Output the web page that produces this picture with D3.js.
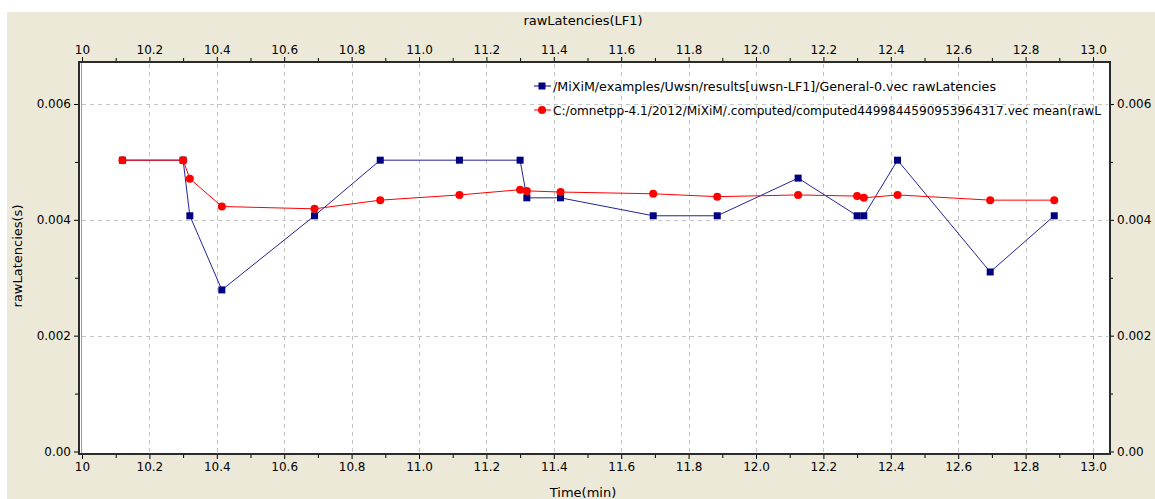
<!DOCTYPE html>
<html>
<head>
<meta charset="utf-8">
<script src="https://cdn.jsdelivr.net/npm/d3@7"></script>
<style>
  body { margin: 0; background: #fff; }
  #chart-area text { font-family: "DejaVu Sans", sans-serif; fill: #000; }
  .axis path.domain { display: none; }
  .axis line { stroke: #000; }
  .grid line { stroke: #c4c4c4; stroke-dasharray: 4,4; }
</style>
</head>
<body>
<div id="chart-area"></div>
<script>

// Time (min) of each sample
var sampleTimes = [10.12, 10.30, 10.32, 10.415, 10.69, 10.885, 11.12, 11.30, 11.32, 11.42,
                   11.695, 11.885, 12.125, 12.30, 12.32, 12.42, 12.695, 12.885];

// rawLatencies (s), blue series
var rawLatencies = [0.00503, 0.00503, 0.00407, 0.00279, 0.00407, 0.00503, 0.00503, 0.00503, 0.00438, 0.00438,
                    0.00407, 0.00407, 0.00472, 0.00407, 0.00407, 0.00503, 0.00310, 0.00407];

// mean(rawLatencies) (s), red series
var meanLatencies = [0.00503, 0.00503, 0.00471, 0.00423, 0.00419, 0.00434, 0.00443, 0.00452, 0.00450, 0.00448,
                     0.00445, 0.00440, 0.00443, 0.00441, 0.00438, 0.00443, 0.00434, 0.00434];

// legend labels as they show in the picture (second one is cut by the plot edge)
var seriesNames = [
  "/MiXiM/examples/Uwsn/results[uwsn-LF1]/General-0.vec rawLatencies",
  "C:/omnetpp-4.1/2012/MiXiM/.computed/computed4499844590953964317.vec mean(rawL"
];

var xTickValues = [10, 10.2, 10.4, 10.6, 10.8, 11.0, 11.2, 11.4, 11.6, 11.8, 12.0, 12.2, 12.4, 12.6, 12.8, 13.0];
var xTickLabels = ["10", "10.2", "10.4", "10.6", "10.8", "11.0", "11.2", "11.4", "11.6", "11.8", "12.0", "12.2", "12.4", "12.6", "12.8", "13.0"];
var xMinorTicks = [10.1, 10.3, 10.5, 10.7, 10.9, 11.1, 11.3, 11.5, 11.7, 11.9, 12.1, 12.3, 12.5, 12.7, 12.9];

var yTickValues = [0, 0.002, 0.004, 0.006];
var yTickLabels = ["0.00", "0.002", "0.004", "0.006"];
var yMinorTicks = [0.001, 0.003, 0.005];


LineChartVis = function(_parentElement){
  this.parentElement = _parentElement;
  this.initVis();
}

LineChartVis.prototype.initVis = function(){
  var vis = this;

  vis.W = 1155;
  vis.H = 499;

  // plot box edges
  vis.box = {left: 80, right: 1109, top: 63, bottom: 453};

  vis.svg = d3.select("#" + vis.parentElement).append("svg")
    .attr("width", vis.W)
    .attr("height", vis.H);

  // beige panel, white strip top and left
  vis.svg.append("rect")
    .attr("x", 7).attr("y", 12)
    .attr("width", vis.W - 7).attr("height", vis.H - 12)
    .attr("fill", "#ece9d8");

  vis.svg.append("rect")
    .attr("x", vis.box.left).attr("y", vis.box.top)
    .attr("width", vis.box.right - vis.box.left)
    .attr("height", vis.box.bottom - vis.box.top)
    .attr("fill", "#fff");

  // Scales
  vis.x = d3.scaleLinear().domain([10, 13]).range([82, 1093]);
  vis.y = d3.scaleLinear().domain([0, 0.006]).range([451.5, 104]);

  var fmtX = function(d){ return xTickLabels[xTickValues.indexOf(d)]; };
  var fmtY = function(d){ return yTickLabels[yTickValues.indexOf(d)]; };

  // Grid
  vis.svg.append("g").attr("class", "grid")
    .selectAll("line").data(xTickValues.slice(1))
    .enter().append("line")
    .attr("x1", function(d){ return Math.round(vis.x(d)) + 0.5; })
    .attr("x2", function(d){ return Math.round(vis.x(d)) + 0.5; })
    .attr("y1", vis.box.top + 1).attr("y2", vis.box.bottom - 1);

  vis.svg.append("g").attr("class", "grid")
    .selectAll("line").data(yTickValues.slice(1))
    .enter().append("line")
    .attr("x1", vis.box.left + 2).attr("x2", vis.box.right - 1)
    .attr("y1", function(d){ return Math.round(vis.y(d)) + 0.5; })
    .attr("y2", function(d){ return Math.round(vis.y(d)) + 0.5; });

  // Axes (major + minor)
  var axes = [
    {gen: d3.axisTop, sc: vis.x, vals: xTickValues, minor: xMinorTicks, fmt: fmtX, tr: "translate(0," + (vis.box.top - 2) + ")"},
    {gen: d3.axisBottom, sc: vis.x, vals: xTickValues, minor: xMinorTicks, fmt: fmtX, tr: "translate(0," + (vis.box.bottom + 2) + ")"},
    {gen: d3.axisLeft, sc: vis.y, vals: yTickValues, minor: yMinorTicks, fmt: fmtY, tr: "translate(" + (vis.box.left - 2) + ",0)"},
    {gen: d3.axisRight, sc: vis.y, vals: yTickValues, minor: yMinorTicks, fmt: fmtY, tr: "translate(" + (vis.box.right + 1) + ",0)"}
  ];

  axes.forEach(function(a){
    vis.svg.append("g")
      .attr("class", "axis")
      .attr("transform", a.tr)
      .style("font-size", "12px")
      .call(a.gen(a.sc).tickValues(a.vals).tickFormat(a.fmt).tickSize(4).tickPadding(3));

    vis.svg.append("g")
      .attr("class", "axis")
      .attr("transform", a.tr)
      .call(a.gen(a.sc).tickValues(a.minor).tickFormat("").tickSize(3));
  });

  vis.svg.selectAll(".axis text")
    .style("font-family", "'DejaVu Sans', sans-serif");

  // Plot frame (double line look)
  vis.svg.append("rect")
    .attr("x", vis.box.left - 1).attr("y", vis.box.top - 1)
    .attr("width", vis.box.right - vis.box.left + 2)
    .attr("height", vis.box.bottom - vis.box.top + 2)
    .attr("fill", "none").attr("stroke", "#2b2b2b").attr("stroke-width", 2);

  vis.svg.append("line")
    .attr("x1", vis.box.left + 1.5).attr("x2", vis.box.left + 1.5)
    .attr("y1", vis.box.top).attr("y2", vis.box.bottom)
    .attr("stroke", "#9a9a9a");

  // Titles
  vis.svg.append("text")
    .attr("x", 583).attr("y", 25)
    .attr("text-anchor", "middle")
    .style("font-size", "13px")
    .text("rawLatencies(LF1)");

  vis.svg.append("text")
    .attr("text-anchor", "middle")
    .attr("transform", "translate(22,256)rotate(-90)")
    .style("font-size", "13px")
    .text("rawLatencies(s)");

  vis.svg.append("text")
    .attr("x", 583).attr("y", 497)
    .attr("text-anchor", "middle")
    .style("font-size", "13px")
    .text("Time(min)");

  vis.clip = vis.svg.append("clipPath").attr("id", "plot-clip")
    .append("rect")
    .attr("x", vis.box.left + 2).attr("y", vis.box.top)
    .attr("width", vis.box.right - vis.box.left - 6)
    .attr("height", vis.box.bottom - vis.box.top);

  vis.wrangleData();
}

LineChartVis.prototype.wrangleData = function(){
  var vis = this;

  vis.rawData = sampleTimes.map(function(t, i){ return {t: t, v: rawLatencies[i]}; });
  vis.meanData = sampleTimes.map(function(t, i){ return {t: t, v: meanLatencies[i]}; });

  vis.updateVis();
}

LineChartVis.prototype.updateVis = function(){
  var vis = this;

  var line = d3.line()
    .x(function(d){ return vis.x(d.t); })
    .y(function(d){ return vis.y(d.v); });

  var g = vis.svg.append("g").attr("clip-path", "url(#plot-clip)");

  // blue series
  g.append("path")
    .datum(vis.rawData)
    .attr("fill", "none")
    .attr("stroke", "#23239a")
    .attr("stroke-width", 1)
    .attr("d", line);

  g.selectAll("rect.raw")
    .data(vis.rawData)
    .enter().append("rect")
    .attr("class", "raw")
    .attr("x", function(d){ return vis.x(d.t) - 3.5; })
    .attr("y", function(d){ return vis.y(d.v) - 3.5; })
    .attr("width", 7).attr("height", 7)
    .attr("fill", "#000080");

  // red series on top
  g.append("path")
    .datum(vis.meanData)
    .attr("fill", "none")
    .attr("stroke", "#ff0000")
    .attr("stroke-width", 1)
    .attr("d", line);

  g.selectAll("circle.mean")
    .data(vis.meanData)
    .enter().append("circle")
    .attr("class", "mean")
    .attr("cx", function(d){ return vis.x(d.t); })
    .attr("cy", function(d){ return vis.y(d.v); })
    .attr("r", 4)
    .attr("fill", "#ff0000");

  // Legend
  var legendColors = ["#000080", "#ff0000"];
  var legendWidths = [443, 548];
  var leg = g.selectAll("g.legend")
    .data(seriesNames)
    .enter().append("g")
    .attr("class", "legend")
    .attr("transform", function(d, i){ return "translate(534," + (86 + i * 24) + ")"; });

  leg.append("line")
    .attr("x1", 0).attr("x2", 17)
    .attr("stroke", function(d, i){ return legendColors[i]; });

  leg.each(function(d, i){
    var el = d3.select(this);
    if (i == 0) {
      el.append("rect").attr("x", 4.5).attr("y", -3.5).attr("width", 7).attr("height", 7).attr("fill", legendColors[i]);
    } else {
      el.append("circle").attr("cx", 8).attr("cy", 0).attr("r", 4).attr("fill", legendColors[i]);
    }
  });

  leg.append("text")
    .attr("x", 19).attr("y", 4.5)
    .attr("textLength", function(d, i){ return legendWidths[i]; })
    .attr("lengthAdjust", "spacingAndGlyphs")
    .style("font-size", "12.4px")
    .text(function(d){ return d; });
}

var chart = new LineChartVis("chart-area");
</script>
</body>
</html>
